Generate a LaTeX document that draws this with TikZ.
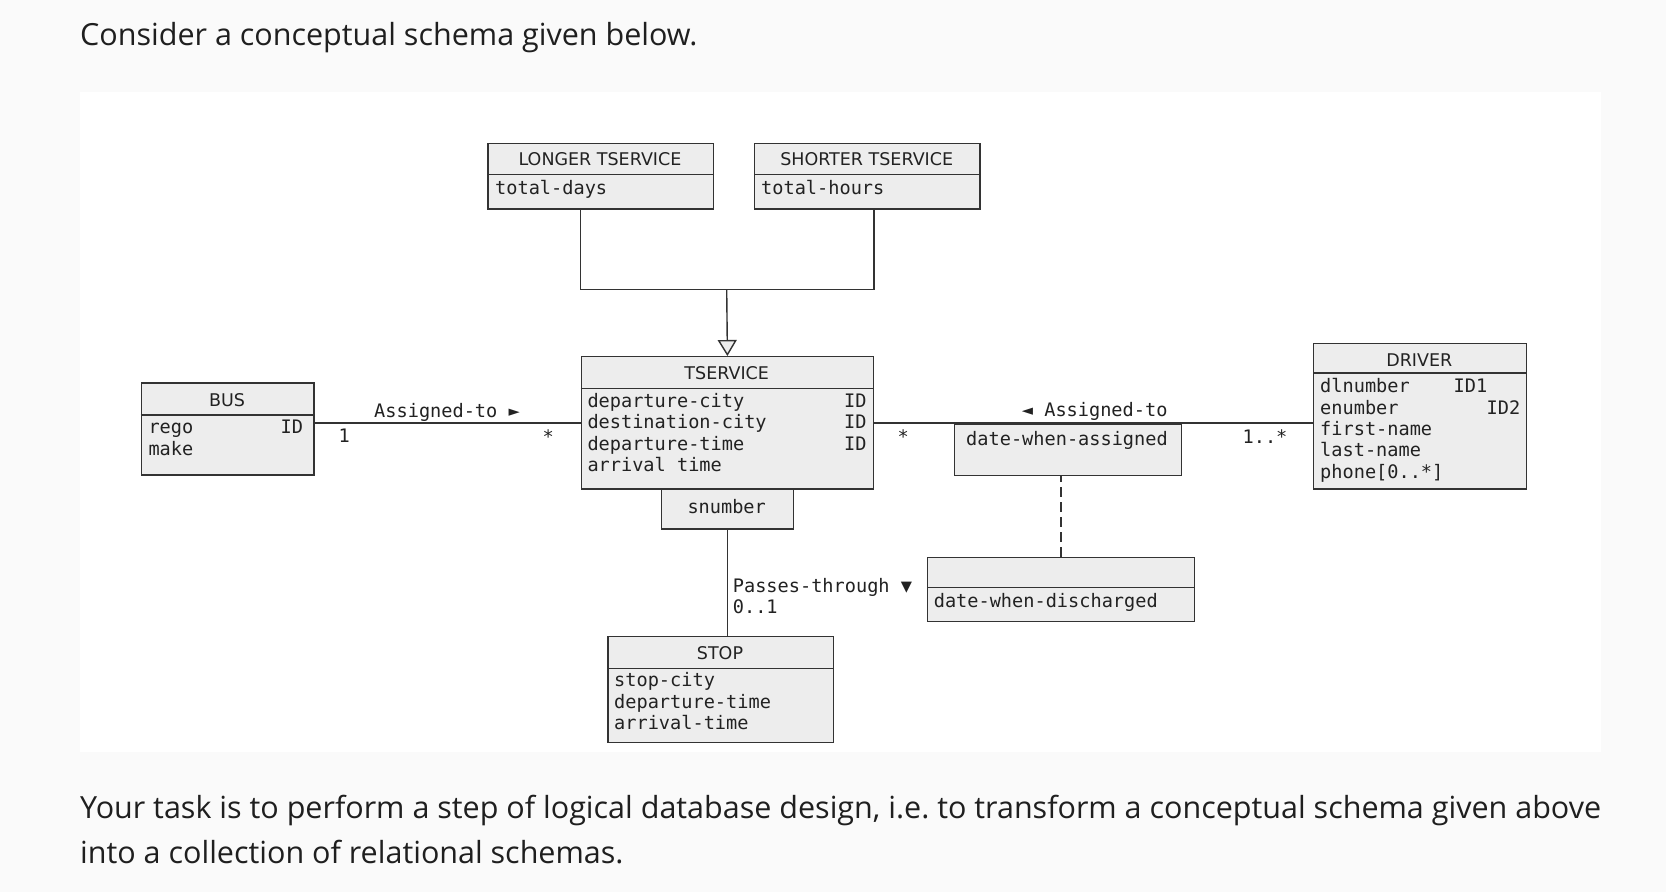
\documentclass[tikz,border=0pt]{standalone}
\usepackage{fontspec}
\setmainfont{Open Sans}
\newfontfamily\umlsans{DejaVu Sans}
\newfontfamily\umlmono{DejaVu Sans Mono}
\usetikzlibrary{arrows.meta,calc}
\frenchspacing
\definecolor{pagebg}{HTML}{FAFAFA}
\definecolor{boxfill}{HTML}{EDEDED}
\definecolor{boxline}{HTML}{333333}
\definecolor{inktext}{HTML}{222222}
\definecolor{bodytext}{HTML}{1F1F1F}
\tikzset{
    cls/.style = {draw=boxline, fill=boxfill, rectangle,
        line width=1.4pt, inner sep=0pt, anchor=north west},
    title/.style = {font=\umlsans\fontsize{17.5}{21}\selectfont, text=inktext, inner sep=0pt},
    attr/.style = {font=\umlmono\fontsize{18.6}{21.3}\selectfont, text=inktext, inner sep=0pt},
    link/.style = {draw=boxline, line width=1.4pt},
    dep/.style = {link, dash pattern=on 10pt off 5pt},
    body/.style = {font=\fontsize{30.5}{40}\selectfont, text=bodytext, inner sep=0pt, anchor=base west}
}
\begin{document}
\begin{tikzpicture}[x=1pt,y=-1pt]
    \useasboundingbox (0,0) rectangle (1666,892);
    \fill[pagebg] (0,0) rectangle (1666,892);
    \fill[white] (80,91.7) rectangle (1601,751.7);

    \node[body] (intro) at (80,45.5) {Consider a conceptual schema given below.};
    \node[body] (task1) at (80,818) {Your task is to perform a step of logical database design, i.e. to transform a conceptual schema given above};
    \node[body] (task2) at (80,863) {into a collection of relational schemas.};

    % classes
    \node[cls, minimum width=225.4pt, minimum height=65.6pt] (longer) at (487.3,142.7) {};
    \draw[link] ([yshift=-31.6pt]longer.north west) -- ([yshift=-31.6pt]longer.north east);
    \node[title] (longer-t) at (600,159.3) {LONGER TSERVICE};
    \node[attr, anchor=mid west] (longer-1) at (495,191.5) {total-days};

    \node[cls, minimum width=225.3pt, minimum height=65.6pt] (shorter) at (754,142.7) {};
    \draw[link] ([yshift=-31.6pt]shorter.north west) -- ([yshift=-31.6pt]shorter.north east);
    \node[title] (shorter-t) at (866.7,159.3) {SHORTER TSERVICE};
    \node[attr, anchor=mid west] (shorter-1) at (761,191.5) {total-hours};

    \node[cls, minimum width=172.6pt, minimum height=92pt] (bus) at (140.7,382.3) {};
    \draw[link] ([yshift=-32.7pt]bus.north west) -- ([yshift=-32.7pt]bus.north east);
    \node[title] (bus-t) at (227,400) {BUS};
    \foreach \a [count=\i] in {rego,make}
        \node[attr, anchor=mid west] (bus-\i) at (148.3,409.4+21.6*\i) {\a};
    \node[attr, anchor=mid east] (bus-id) at (303.3,431) {ID};

    \node[cls, minimum width=292pt, minimum height=132.3pt] (ts) at (580.7,356) {};
    \draw[link] ([yshift=-32.3pt]ts.north west) -- ([yshift=-32.3pt]ts.north east);
    \node[title] (ts-t) at (726.7,372.7) {TSERVICE};
    \foreach \a [count=\i] in {departure-city,destination-city,departure-time,arrival time}
        \node[attr, anchor=mid west] (ts-\i) at (587.3,383.7+21.3*\i) {\a};
    \foreach \i in {1,2,3}
        \node[attr, anchor=mid east] (ts-id\i) at (866.7,383.7+21.3*\i) {ID};

    \node[cls, minimum width=132pt, minimum height=39.3pt] (sn) at (660.7,489) {};
    \node[attr] (sn-t) at (726.7,506.7) {snumber};

    \node[cls, minimum width=225.4pt, minimum height=105.7pt] (stop) at (607.3,636) {};
    \draw[link] ([yshift=-32.3pt]stop.north west) -- ([yshift=-32.3pt]stop.north east);
    \node[title] (stop-t) at (720,652.7) {STOP};
    \foreach \a [count=\i] in {stop-city,departure-time,arrival-time}
        \node[attr, anchor=mid west] (stop-\i) at (614,663+21.3*\i) {\a};

    \node[cls, minimum width=226.6pt, minimum height=51.7pt] (asg) at (954,423.3) {};
    \node[attr] (asg-t) at (1067,440) {date-when-assigned};

    \node[cls, minimum width=266.6pt, minimum height=64.3pt] (dis) at (927,556.7) {};
    \draw[link] ([yshift=-31pt]dis.north west) -- ([yshift=-31pt]dis.north east);
    \node[attr, anchor=mid west] (dis-1) at (933.6,604.5) {date-when-discharged};

    \node[cls, minimum width=212.5pt, minimum height=145.6pt] (drv) at (1313,342.7) {};
    \draw[link] ([yshift=-30.3pt]drv.north west) -- ([yshift=-30.3pt]drv.north east);
    \node[title] (drv-t) at (1419.3,360) {DRIVER};
    \foreach \a [count=\i] in {dlnumber,enumber,first-name,last-name,{phone[0..*]}}
        \node[attr, anchor=mid west] (drv-\i) at (1320,369+21.3*\i) {\a};
    \node[attr, anchor=mid west] (drv-id1) at (1453.5,390.3) {ID1};
    \node[attr, anchor=mid east] (drv-id2) at (1520.5,411.6) {ID2};

    % connectors
    \coordinate (gen) at (726.7,289.3);
    \draw[link] (ts.north west |- longer.south) -- (ts.north west |- gen)
        -- (ts.north east |- gen) -- (ts.north east |- shorter.south);
    \draw[link, -{Triangle[open, fill=boxfill, length=16pt, width=19pt]}] (gen) -- (ts.north);

    \draw[link] (ts.west -| bus.east) -- (ts.west);
    \draw[link] (ts.east) -- (ts.east -| drv.west);
    \draw[dep] (dis.north) -- (dis.north |- asg.south);
    \draw[link] (sn.south) -- (sn.south |- stop.north);

    \node[attr] (bus-l) at (447,412) {Assigned-to ►};
    \node[attr] (bus-m1) at (344.3,435.5) {1};
    \node[attr] (bus-m2) at (548.3,436.5) {*};
    \node[attr] (drv-l) at (1094.7,411.5) {◄ Assigned-to};
    \node[attr] (drv-m1) at (903.3,436.5) {*};
    \node[attr] (drv-m2) at (1265,436.5) {1..*};
    \node[attr, anchor=mid west] (stop-l) at (732.7,590) {Passes-through ▼};
    \node[attr, anchor=mid west] (stop-m) at (732.7,611) {0..1};
\end{tikzpicture}
\end{document}
